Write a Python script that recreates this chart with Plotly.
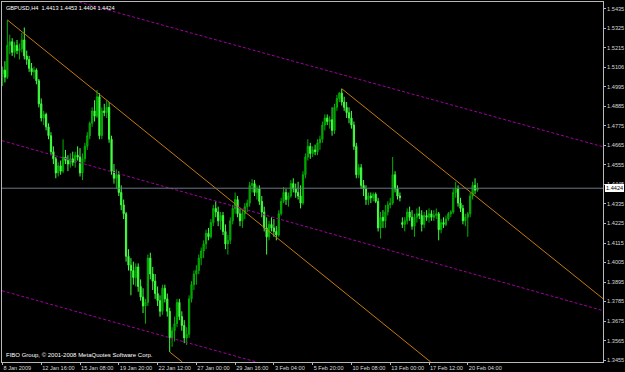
import plotly.graph_objects as go

# ---------------- data ----------------
bars = list(range(197))

opens = [
1.5070,1.5090,1.5050,1.5230,1.5250,1.5190,1.5230,1.5200,1.5210,1.5260,
1.5170,1.5150,1.5100,1.5080,1.5090,1.5030,1.4900,1.4820,1.4840,1.4770,
1.4720,1.4630,1.4590,1.4510,1.4550,1.4520,1.4600,1.4580,1.4560,1.4590,
1.4570,1.4610,1.4600,1.4510,1.4590,1.4660,1.4720,1.4790,1.4860,1.4830,
1.4940,1.4720,1.4860,1.4850,1.4880,1.4700,1.4520,1.4480,1.4500,1.4400,
1.4330,1.4280,1.4040,1.3990,1.3960,1.3920,1.3980,1.3870,1.3810,1.3760,
1.3780,1.4030,1.3940,1.3900,1.3830,1.3790,1.3730,1.3860,1.3800,1.3730,
1.3580,1.3620,1.3660,1.3780,1.3700,1.3650,1.3580,1.3600,1.3800,1.3880,
1.3940,1.3960,1.4030,1.4070,1.4110,1.4170,1.4150,1.4230,1.4310,1.4290,
1.4240,1.4270,1.4180,1.4110,1.4130,1.4240,1.4310,1.4360,1.4280,1.4240,
1.4280,1.4320,1.4340,1.4440,1.4450,1.4400,1.4420,1.4350,1.4290,1.4200,
1.4150,1.4220,1.4200,1.4180,1.4160,1.4280,1.4350,1.4400,1.4360,1.4380,
1.4450,1.4420,1.4400,1.4380,1.4340,1.4500,1.4600,1.4660,1.4620,1.4640,
1.4630,1.4680,1.4700,1.4780,1.4820,1.4800,1.4810,1.4750,1.4880,1.4930,
1.4960,1.4910,1.4880,1.4850,1.4820,1.4780,1.4660,1.4500,1.4540,1.4440,
1.4420,1.4360,1.4380,1.4370,1.4390,1.4350,1.4200,1.4260,1.4240,1.4290,
1.4330,1.4340,1.4500,1.4420,1.4380,1.4230,1.4220,1.4240,1.4290,1.4260,
1.4210,1.4260,1.4280,1.4270,1.4220,1.4270,1.4260,1.4280,1.4260,1.4270,
1.4280,1.4190,1.4230,1.4220,1.4250,1.4280,1.4290,1.4400,1.4420,1.4340,
1.4310,1.4240,1.4260,1.4280,1.4380,1.4440,1.4413]

highs = [
1.5110,1.5140,1.5373,1.5290,1.5270,1.5250,1.5260,1.5240,1.5300,1.5330,
1.5200,1.5170,1.5130,1.5110,1.5100,1.5040,1.4930,1.4860,1.4850,1.4790,
1.4740,1.4660,1.4600,1.4570,1.4580,1.4700,1.4640,1.4610,1.4620,1.4630,
1.4630,1.4660,1.4650,1.4620,1.4680,1.4740,1.4800,1.4880,1.4920,1.4978,
1.4960,1.4880,1.4900,1.4920,1.4910,1.4720,1.4560,1.4530,1.4520,1.4440,
1.4360,1.4290,1.4080,1.4030,1.4010,1.4000,1.4000,1.3910,1.3860,1.3800,
1.4050,1.4060,1.3980,1.3940,1.3870,1.3820,1.3880,1.3880,1.3830,1.3750,
1.3640,1.3700,1.3800,1.3800,1.3730,1.3680,1.3640,1.3820,1.3900,1.3960,
1.3990,1.4050,1.4090,1.4130,1.4190,1.4200,1.4250,1.4330,1.4350,1.4320,
1.4290,1.4290,1.4220,1.4160,1.4260,1.4330,1.4400,1.4380,1.4310,1.4300,
1.4340,1.4360,1.4460,1.4475,1.4470,1.4440,1.4440,1.4380,1.4320,1.4260,
1.4240,1.4260,1.4250,1.4210,1.4300,1.4370,1.4430,1.4420,1.4400,1.4470,
1.4480,1.4450,1.4460,1.4440,1.4520,1.4620,1.4700,1.4680,1.4660,1.4670,
1.4700,1.4720,1.4800,1.4840,1.4840,1.4830,1.4880,1.4900,1.4950,1.4965,
1.4985,1.4940,1.4910,1.4880,1.4860,1.4800,1.4680,1.4560,1.4560,1.4470,
1.4440,1.4400,1.4400,1.4400,1.4400,1.4370,1.4290,1.4300,1.4330,1.4350,
1.4370,1.4600,1.4520,1.4440,1.4400,1.4260,1.4260,1.4310,1.4320,1.4300,
1.4280,1.4310,1.4320,1.4300,1.4290,1.4300,1.4310,1.4300,1.4300,1.4310,
1.4290,1.4250,1.4260,1.4270,1.4290,1.4300,1.4420,1.4460,1.4440,1.4370,
1.4330,1.4280,1.4290,1.4400,1.4460,1.4480,1.4453]

lows = [
1.5000,1.5020,1.5040,1.5180,1.5170,1.5160,1.5180,1.5150,1.5190,1.5150,
1.5120,1.5080,1.5060,1.5040,1.5010,1.4880,1.4800,1.4780,1.4750,1.4700,
1.4610,1.4560,1.4480,1.4490,1.4500,1.4510,1.4560,1.4520,1.4540,1.4550,
1.4540,1.4580,1.4490,1.4470,1.4570,1.4640,1.4700,1.4770,1.4800,1.4820,
1.4700,1.4700,1.4830,1.4820,1.4680,1.4500,1.4450,1.4420,1.4380,1.4300,
1.4250,1.4010,1.3960,1.3820,1.3880,1.3870,1.3840,1.3790,1.3720,1.3660,
1.3760,1.3910,1.3850,1.3800,1.3760,1.3700,1.3710,1.3780,1.3700,1.3500,
1.3530,1.3560,1.3640,1.3680,1.3620,1.3550,1.3540,1.3580,1.3780,1.3850,
1.3880,1.3940,1.3990,1.4030,1.4080,1.4130,1.4140,1.4210,1.4260,1.4210,
1.4190,1.4160,1.4080,1.4050,1.4110,1.4220,1.4280,1.4260,1.4210,1.4200,
1.4250,1.4290,1.4320,1.4400,1.4380,1.4360,1.4330,1.4260,1.4180,1.4050,
1.4130,1.4180,1.4150,1.4130,1.4150,1.4270,1.4340,1.4330,1.4320,1.4370,
1.4400,1.4370,1.4360,1.4310,1.4330,1.4480,1.4580,1.4590,1.4600,1.4610,
1.4610,1.4640,1.4680,1.4750,1.4780,1.4760,1.4720,1.4730,1.4860,1.4910,
1.4890,1.4860,1.4820,1.4790,1.4760,1.4640,1.4480,1.4480,1.4420,1.4380,
1.4330,1.4330,1.4340,1.4350,1.4340,1.4180,1.4140,1.4200,1.4200,1.4270,
1.4310,1.4330,1.4400,1.4360,1.4350,1.4200,1.4180,1.4220,1.4240,1.4190,
1.4150,1.4230,1.4250,1.4180,1.4200,1.4240,1.4230,1.4240,1.4240,1.4250,
1.4130,1.4170,1.4200,1.4210,1.4240,1.4260,1.4280,1.4370,1.4320,1.4290,
1.4220,1.4210,1.4150,1.4260,1.4360,1.4390,1.4404]

closes = [
1.5090,1.5050,1.5230,1.5250,1.5190,1.5230,1.5200,1.5210,1.5260,1.5170,
1.5150,1.5100,1.5080,1.5090,1.5030,1.4900,1.4820,1.4840,1.4770,1.4720,
1.4630,1.4590,1.4510,1.4550,1.4520,1.4600,1.4580,1.4560,1.4590,1.4570,
1.4610,1.4600,1.4510,1.4590,1.4660,1.4720,1.4790,1.4860,1.4830,1.4940,
1.4720,1.4860,1.4850,1.4880,1.4700,1.4520,1.4480,1.4500,1.4400,1.4330,
1.4280,1.4040,1.3990,1.3960,1.3920,1.3980,1.3870,1.3810,1.3760,1.3780,
1.4030,1.3940,1.3900,1.3830,1.3790,1.3730,1.3860,1.3800,1.3730,1.3580,
1.3620,1.3660,1.3780,1.3700,1.3650,1.3580,1.3600,1.3800,1.3880,1.3940,
1.3960,1.4030,1.4070,1.4110,1.4170,1.4150,1.4230,1.4310,1.4290,1.4240,
1.4270,1.4180,1.4110,1.4130,1.4240,1.4310,1.4360,1.4280,1.4240,1.4280,
1.4320,1.4340,1.4440,1.4450,1.4400,1.4420,1.4350,1.4290,1.4200,1.4150,
1.4220,1.4200,1.4180,1.4160,1.4280,1.4350,1.4400,1.4360,1.4380,1.4450,
1.4420,1.4400,1.4380,1.4340,1.4500,1.4600,1.4660,1.4620,1.4640,1.4630,
1.4680,1.4700,1.4780,1.4820,1.4800,1.4810,1.4750,1.4880,1.4930,1.4960,
1.4910,1.4880,1.4850,1.4820,1.4780,1.4660,1.4500,1.4540,1.4440,1.4420,
1.4360,1.4380,1.4370,1.4390,1.4350,1.4200,1.4260,1.4240,1.4290,1.4330,
1.4340,1.4500,1.4420,1.4380,1.4370,1.4220,1.4240,1.4290,1.4260,1.4210,
1.4260,1.4280,1.4270,1.4220,1.4270,1.4260,1.4280,1.4260,1.4270,1.4280,
1.4190,1.4230,1.4220,1.4250,1.4280,1.4290,1.4400,1.4420,1.4340,1.4310,
1.4240,1.4260,1.4280,1.4380,1.4440,1.4413,1.4424]

x_tick_bars = [0, 16, 32, 48, 64, 80, 96, 112, 128, 144, 160, 176, 192]
x_tick_text = ["8 Jan 2009", "12 Jan 16:00", "15 Jan 08:00", "19 Jan 20:00",
               "22 Jan 12:00", "27 Jan 00:00", "29 Jan 16:00", "3 Feb 04:00",
               "5 Feb 20:00", "10 Feb 08:00", "13 Feb 00:00", "17 Feb 12:00",
               "20 Feb 04:00"]

y_tick_vals = [1.5435, 1.5325, 1.5215, 1.5105, 1.4995, 1.4885, 1.4775, 1.4665,
               1.4555, 1.4445, 1.4335, 1.4225, 1.4115, 1.4005, 1.3895, 1.3785,
               1.3675, 1.3565, 1.3455]
y_tick_text = ["1.5435", "1.5325", "1.5215", "1.5106", "1.4995", "1.4885", "1.4775",
               "1.4665", "1.4555", "1.4445", "1.4335", "1.4225", "1.4115", "1.4005",
               "1.3895", "1.3785", "1.3675", "1.3565", "1.3455"]

# trend lines: (bar, price) anchor pairs
orange_lines = [[(2.0, 1.5373), (176.7, 1.3444)],
                [(69.0, 1.3500), (74.2, 1.3444)],
                [(140.0, 1.4985), (248.0, 1.3799)]]
magenta_lines = [[(31.6, 1.5474), (248.0, 1.4657)],
                 [(-0.2, 1.4692), (248.0, 1.3733)],
                 [(-0.2, 1.3846), (104.8, 1.3444)]]

symbol = "GBPUSD,H4"
last_price = closes[-1]
x_range = [-0.2, 247.8]
y_range = [1.3444, 1.5474]

FONT = "Liberation Sans, Arial, sans-serif"
FS = 5.6

# ---------------- figure ----------------
fig = go.Figure()

fig.add_trace(go.Candlestick(
    x=bars, open=opens, high=highs, low=lows, close=closes,
    increasing=dict(line=dict(color="#00b000", width=1), fillcolor="#009000"),
    decreasing=dict(line=dict(color="#40ff40", width=1), fillcolor="#40ff40"),
    whiskerwidth=0, showlegend=False, hoverinfo="skip"))

for (a, b) in orange_lines:
    fig.add_trace(go.Scatter(x=[a[0], b[0]], y=[a[1], b[1]], mode="lines",
                             line=dict(color="#c47a12", width=1),
                             showlegend=False, hoverinfo="skip"))
for (a, b) in magenta_lines:
    fig.add_trace(go.Scatter(x=[a[0], b[0]], y=[a[1], b[1]], mode="lines",
                             line=dict(color="#a000a0", width=1, dash="3px,2px"),
                             showlegend=False, hoverinfo="skip"))

# current price line
fig.add_trace(go.Scatter(x=x_range, y=[last_price, last_price], mode="lines",
                         line=dict(color="#6a7888", width=1),
                         showlegend=False, hoverinfo="skip"))

fig.update_layout(
    width=625, height=372,
    margin=dict(l=2, r=22, t=2, b=10),
    paper_bgcolor="#000000", plot_bgcolor="#000000",
    font=dict(family=FONT, size=FS, color="#d8d8d8"),
    xaxis=dict(range=x_range, rangeslider=dict(visible=False), showgrid=False,
               zeroline=False, showline=True, linecolor="#b8b8b8", linewidth=1,
               mirror=True, tickmode="array", tickvals=x_tick_bars,
               ticktext=x_tick_text, ticks="outside", ticklen=2, tickangle=0,
               automargin=False,
               tickcolor="#b8b8b8", ticklabelposition="outside right",
               tickfont=dict(family=FONT, size=FS, color="#d8d8d8")),
    yaxis=dict(range=y_range, side="right", showgrid=False, zeroline=False,
               showline=True, linecolor="#b8b8b8", linewidth=1, mirror=True,
               tickmode="array", tickvals=y_tick_vals, ticktext=y_tick_text,
               ticks="outside", ticklen=2, tickcolor="#b8b8b8", automargin=False,
               tickfont=dict(family=FONT, size=FS, color="#d8d8d8")),
)

fig.add_annotation(xref="paper", yref="paper", x=0, y=1, xanchor="left", yanchor="top",
                   xshift=2, yshift=-1, showarrow=False,
                   text=f"{symbol}  {opens[-1]:.4f} {highs[-1]:.4f} {lows[-1]:.4f} {closes[-1]:.4f}",
                   font=dict(family=FONT, size=FS, color="#ffffff"))
fig.add_annotation(xref="paper", yref="paper", x=0, y=0, xanchor="left", yanchor="bottom",
                   xshift=2, yshift=2, showarrow=False,
                   text="FIBO Group, © 2001-2008 MetaQuotes Software Corp.",
                   font=dict(family=FONT, size=6, color="#ffffff"))
fig.add_annotation(xref="paper", yref="y", x=1, y=last_price, xanchor="left",
                   yanchor="middle", xshift=2, showarrow=False,
                   text=f"{last_price:.4f}", bgcolor="#ffffff",
                   bordercolor="#ffffff", borderpad=0,
                   font=dict(family=FONT, size=FS, color="#000000"))

fig.write_html("out.html")
